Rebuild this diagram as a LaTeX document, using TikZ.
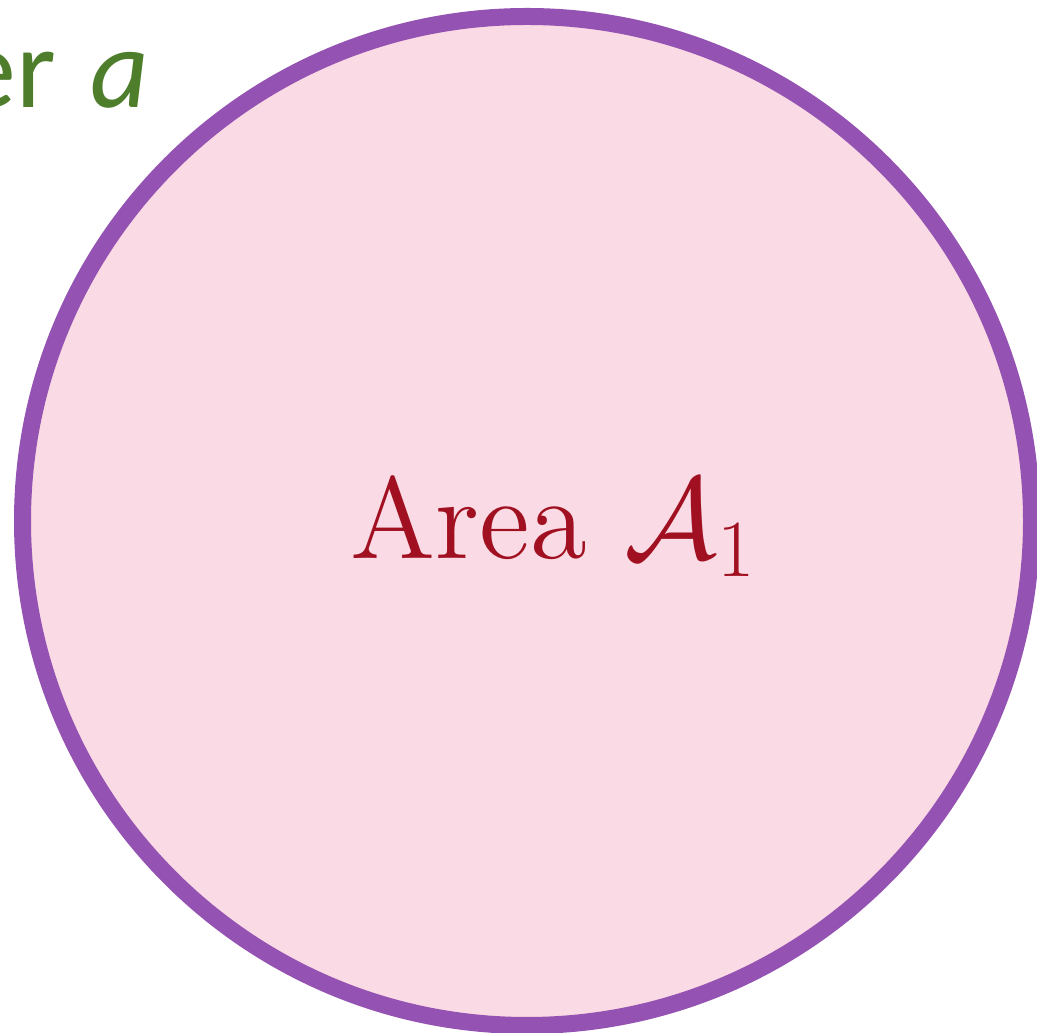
\documentclass[tikz,border=0pt]{standalone}
\usepackage{fix-cm}
\usepackage{fontspec}
\newfontfamily\greenfont{Carlito}
\newfontfamily\lmtwelve{lmroman12-regular}[Extension=.otf]
\definecolor{fillpink}{RGB}{250,218,228}
\definecolor{ringpurple}{RGB}{148,82,178}
\definecolor{textred}{RGB}{160,16,32}
\definecolor{textgreen}{RGB}{78,125,43}
\tikzset{
  areacircle/.style={draw=ringpurple, fill=fillpink, line width=17pt},
  arealabel/.style={text=textred, inner sep=0pt, font=\lmtwelve\fontsize{116}{136}\selectfont},
  sidelabel/.style={text=textgreen, inner sep=0pt, font=\greenfont\fontsize{114}{130}\selectfont}
}
\begin{document}
\begin{tikzpicture}[x=1pt,y=1pt]
  \useasboundingbox (0,0) rectangle (1037,1033);
  \draw[areacircle] (527,512) circle[radius=504.5];
  \node[arealabel, anchor=base west] (area) at (350,474) {Area $\mathcal{A}_1$};
  \node[sidelabel, anchor=base east] (side) at (149,925) {er\hspace{8pt} \textit{a}};
\end{tikzpicture}
\end{document}
